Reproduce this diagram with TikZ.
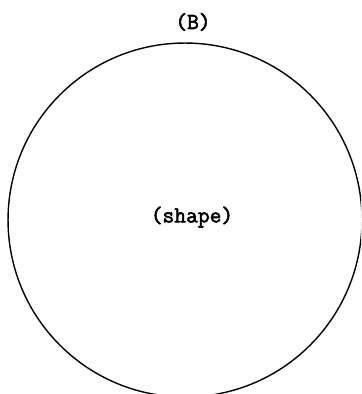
\documentclass[tikz,border=0pt]{standalone}
\usepackage{fontspec}
\newfontfamily\typefont{Latin Modern Mono}[FakeBold=2.5]
\begin{document}
\begin{tikzpicture}[x=0.02cm,y=-0.02cm,
	outline/.style={draw, circle, line width=0.8pt, minimum size=7.08cm, inner sep=0pt},
	typed/.style={font=\typefont\fontsize{13}{15}\selectfont}]
	\clip (0,0) rectangle (361,394);
	\useasboundingbox (0,0) rectangle (361,394);
	
	% the region, cut off at the bottom edge
	\node[outline] (region) at (185,220) {};
	
	\node[typed] (shape) at (192,217) {(shape)};
	\node[typed] (title) at (193,22) {(B)};
\end{tikzpicture}
\end{document}
